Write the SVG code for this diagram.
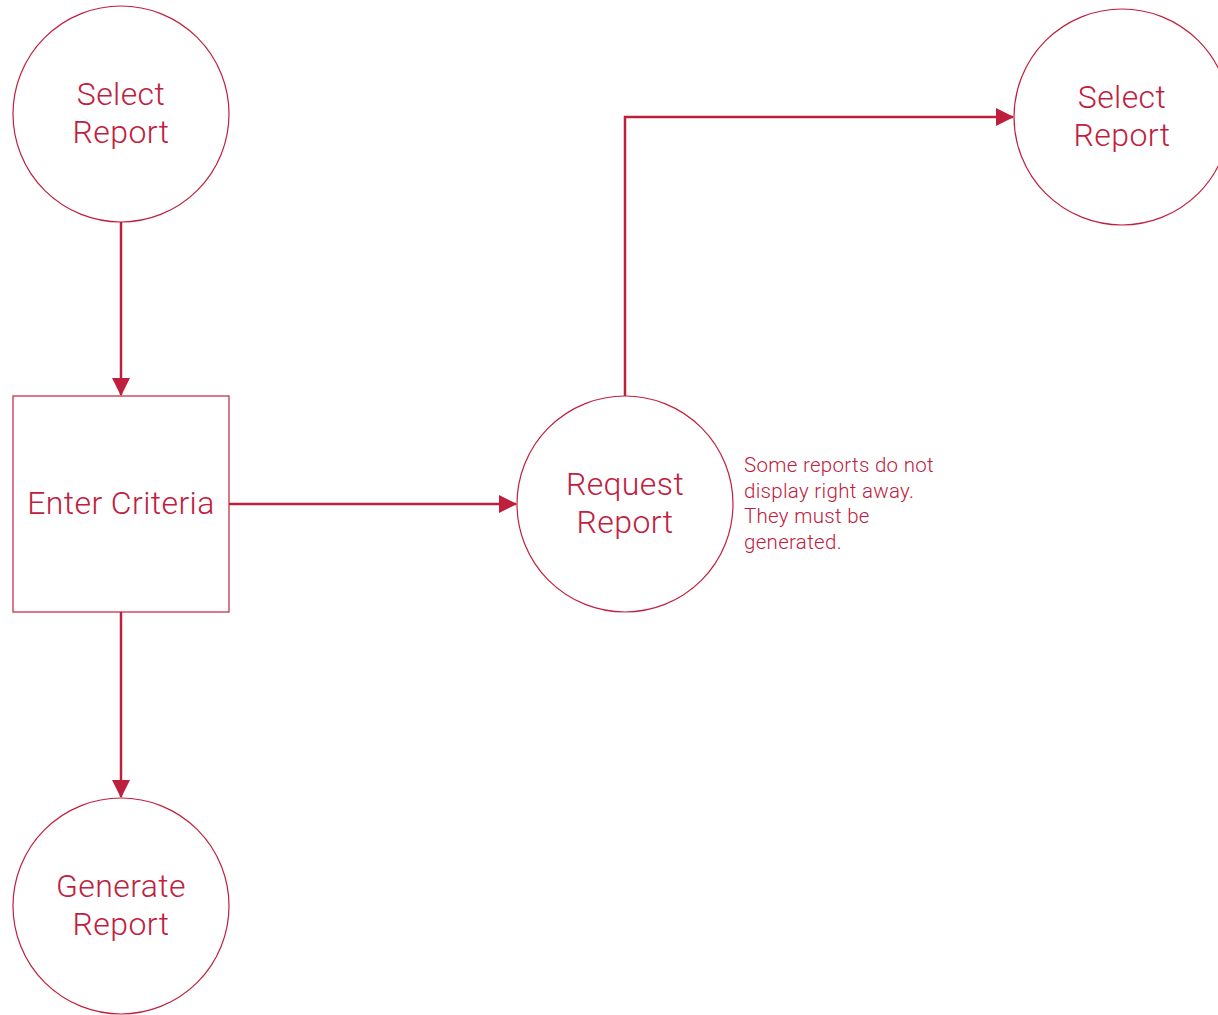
<svg xmlns="http://www.w3.org/2000/svg" width="1218" height="1015" viewBox="0 0 1218 1015">
<style>
.shape{fill:#fff;stroke:#c0203d;stroke-width:1.2}
.lbl{font-family:Roboto,"Liberation Sans",sans-serif;font-weight:300;font-size:32px;letter-spacing:0.4px;fill:#c0203d;text-anchor:middle}
.note{font-family:Roboto,"Liberation Sans",sans-serif;font-weight:300;font-size:20.5px;letter-spacing:0.3px;fill:#c0203d}
.conn{fill:none;stroke:#bd1f3c;stroke-width:2.5}
</style>
<defs>
<marker id="ah" markerWidth="18" markerHeight="18" refX="17" refY="9" orient="auto" markerUnits="userSpaceOnUse" viewBox="0 0 18 18">
<path d="M0,0 L18,9 L0,18 z" fill="#bd1f3c"/>
</marker>
</defs>
<rect width="1218" height="1015" fill="#fff"/>
<g id="connectors">
<path class="conn" d="M121,222 V395" marker-end="url(#ah)"/>
<path class="conn" d="M229,504 H516" marker-end="url(#ah)"/>
<path class="conn" d="M121,612 V797" marker-end="url(#ah)"/>
<path class="conn" d="M625,396 V117 H1013" marker-end="url(#ah)"/>
</g>
<g id="select-report-1">
<circle class="shape" cx="121" cy="114" r="108"/>
<text class="lbl" x="121" y="105">Select</text>
<text class="lbl" x="121" y="143">Report</text>
</g>
<g id="enter-criteria">
<rect class="shape" x="13" y="396" width="216" height="216"/>
<text class="lbl" x="121" y="514">Enter Criteria</text>
</g>
<g id="request-report">
<circle class="shape" cx="625" cy="504" r="108"/>
<text class="lbl" x="625" y="495">Request</text>
<text class="lbl" x="625" y="533">Report</text>
</g>
<g id="select-report-2">
<circle class="shape" cx="1122" cy="117" r="108"/>
<text class="lbl" x="1122" y="108">Select</text>
<text class="lbl" x="1122" y="146">Report</text>
</g>
<g id="generate-report">
<circle class="shape" cx="121" cy="906" r="108"/>
<text class="lbl" x="121" y="897">Generate</text>
<text class="lbl" x="121" y="935">Report</text>
</g>
<g id="note">
<text class="note" x="744" y="472">Some reports do not</text>
<text class="note" x="744" y="498">display right away.</text>
<text class="note" x="744" y="523">They must be</text>
<text class="note" x="744" y="549">generated.</text>
</g>
</svg>
